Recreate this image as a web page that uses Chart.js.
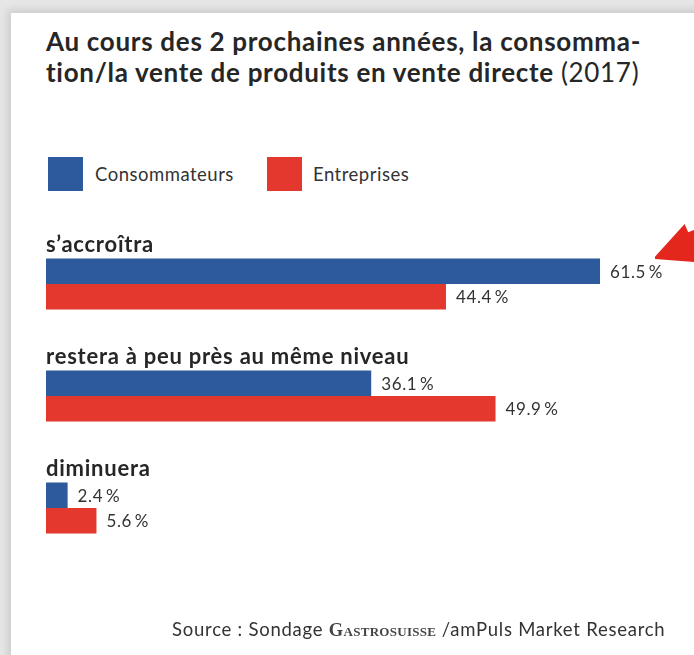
<!DOCTYPE html>
<html>
<head>
<meta charset="utf-8">
<script src="https://cdn.jsdelivr.net/npm/chart.js@4/dist/chart.umd.min.js"></script>
<style>
  html, body { margin: 0; padding: 0; background: #ececec; }
  #wrap { position: relative; width: 694px; height: 655px; overflow: hidden; background: #e6e6e6; }
  #card { position: absolute; left: 11px; top: 13px; width: 700px; height: 660px; background: #fff;
          box-shadow: 0 0 8px 3px rgba(0,0,0,0.12); }
  #title { position: absolute; left: 46px; top: 26px; font-family: Lato, sans-serif; font-weight: 700;
           font-size: 26px; line-height: 31px; letter-spacing: 0.7px; color: #262626; white-space: nowrap; }
  #title .yr { font-weight: 400; }
  .lg { position: absolute; top: 157px; width: 35px; height: 34px; }
  .lgt { position: absolute; top: 163px; font-family: Lato, sans-serif; font-size: 18.5px; letter-spacing: 0.5px; color: #333; }
  #source { position: absolute; left: 172px; top: 618px; font-family: Lato, sans-serif; font-size: 18.5px; letter-spacing: 0.75px; color: #333; white-space: nowrap; }
  #source .gs { font-family: "Liberation Serif", serif; font-variant: small-caps; font-weight: 700; color: #444; letter-spacing: 0.3px; }
  #arrow { position: absolute; left: 655px; top: 224px; width: 40px; height: 38px; background: #e3271c;
           clip-path: polygon(0% 86%, 74% 0%, 83% 22%, 100% 15%, 100% 100%, 0% 92%); }
  canvas { position: absolute; left: 0; top: 0; }
</style>
</head>
<body>
<div id="wrap">
  <div id="card"></div>
  <div id="title">Au cours des 2 prochaines années, la consomma-<br>tion/la vente de produits en vente directe <span class="yr">(2017)</span></div>
  <div class="lg" style="left:48px;background:#2c5a9d;"></div>
  <div class="lgt" style="left:95px;">Consommateurs</div>
  <div class="lg" style="left:267px;background:#e4382e;"></div>
  <div class="lgt" style="left:313px;">Entreprises</div>
  <div id="arrow"></div>
  <canvas id="c" width="694" height="655"></canvas>
  <div id="source">Source : Sondage <span class="gs">Gastrosuisse</span> /amPuls Market Research</div>
</div>
<script>
const categories = ["s\u2019accroîtra", "restera à peu près au même niveau", "diminuera"];
const seriesNames = ["Consommateurs", "Entreprises"];
const consommateurs = [61.5, 36.1, 2.4];
const entreprises = [44.4, 49.9, 5.6];
const colors = ["#2c5a9d", "#e4382e"];

const labelsPlugin = {
  id: 'labelsPlugin',
  afterDatasetsDraw(chart) {
    const ctx = chart.ctx;
    ctx.save();
    ctx.textBaseline = "middle";
    ctx.textAlign = "left";
    // category labels above each group
    ctx.font = "700 22px Lato, sans-serif";
    ctx.letterSpacing = "0.75px";
    ctx.fillStyle = "#262626";
    categories.forEach((cat, i) => {
      const meta0 = chart.getDatasetMeta(0).data[i];
      const top = meta0.y - meta0.height / 2;
      ctx.fillText(cat, chart.chartArea.left, top - 14);
    });
    // value labels
    ctx.font = "400 17px Lato, sans-serif";
    ctx.letterSpacing = "0.6px";
    ctx.fillStyle = "#333";
    chart.data.datasets.forEach((ds, di) => {
      chart.getDatasetMeta(di).data.forEach((bar, i) => {
        const v = ds.data[i];
        ctx.fillText(v.toFixed(1) + "\u2009%", bar.x + 10, bar.y + 1);
      });
    });
    ctx.restore();
  }
};

new Chart(document.getElementById('c'), {
  type: 'bar',
  data: {
    labels: categories,
    datasets: [
      { label: seriesNames[0], data: consommateurs, backgroundColor: colors[0], categoryPercentage: 0.455, barPercentage: 1.0 },
      { label: seriesNames[1], data: entreprises, backgroundColor: colors[1], categoryPercentage: 0.455, barPercentage: 1.0 }
    ]
  },
  options: {
    indexAxis: 'y',
    responsive: false,
    animation: false,
    layout: { padding: { left: 46, right: 17.4, top: 228, bottom: 91 } },
    plugins: { legend: { display: false }, tooltip: { enabled: false } },
    scales: {
      x: { display: false, min: 0, max: 70 },
      y: { display: false }
    }
  },
  plugins: [labelsPlugin]
});
</script>
</body>
</html>
